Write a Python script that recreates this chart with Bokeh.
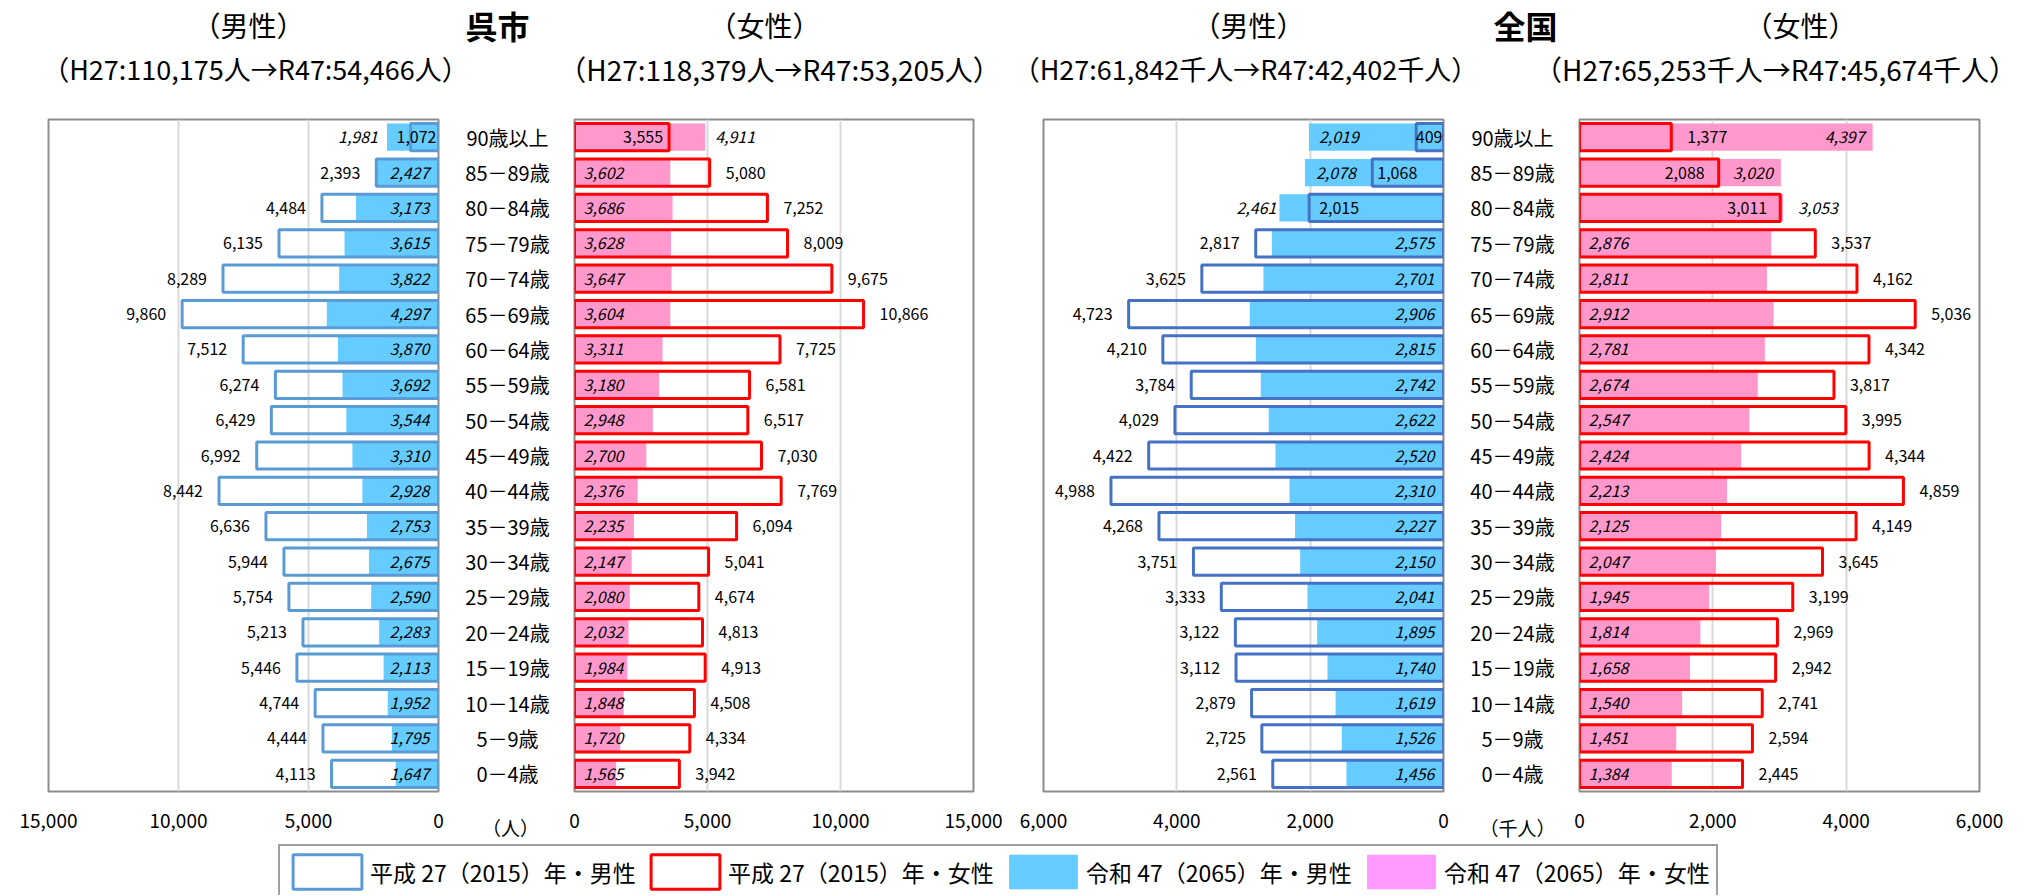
from bokeh.plotting import figure
from bokeh.models import (ColumnDataSource, Range1d, FactorRange, FixedTicker,
                          NumeralTickFormatter, LabelSet, Legend, LegendItem)
from bokeh.layouts import row, column
from bokeh.embed import file_html
from bokeh.resources import INLINE
from bokeh.core.properties import value

# ---------------- data ----------------
ages = ["90歳以上", "85－89歳", "80－84歳", "75－79歳", "70－74歳", "65－69歳",
        "60－64歳", "55－59歳", "50－54歳", "45－49歳", "40－44歳", "35－39歳",
        "30－34歳", "25－29歳", "20－24歳", "15－19歳", "10－14歳", "5－9歳", "0－4歳"]

kure_male_2015 = [1072, 2393, 4484, 6135, 8289, 9860, 7512, 6274, 6429, 6992,
                  8442, 6636, 5944, 5754, 5213, 5446, 4744, 4444, 4113]
kure_male_2065 = [1981, 2427, 3173, 3615, 3822, 4297, 3870, 3692, 3544, 3310,
                  2928, 2753, 2675, 2590, 2283, 2113, 1952, 1795, 1647]
kure_female_2015 = [3555, 5080, 7252, 8009, 9675, 10866, 7725, 6581, 6517, 7030,
                    7769, 6094, 5041, 4674, 4813, 4913, 4508, 4334, 3942]
kure_female_2065 = [4911, 3602, 3686, 3628, 3647, 3604, 3311, 3180, 2948, 2700,
                    2376, 2235, 2147, 2080, 2032, 1984, 1848, 1720, 1565]

nat_male_2015 = [409, 1068, 2015, 2817, 3625, 4723, 4210, 3784, 4029, 4422,
                 4988, 4268, 3751, 3333, 3122, 3112, 2879, 2725, 2561]
nat_male_2065 = [2019, 2078, 2461, 2575, 2701, 2906, 2815, 2742, 2622, 2520,
                 2310, 2227, 2150, 2041, 1895, 1740, 1619, 1526, 1456]
nat_female_2015 = [1377, 2088, 3011, 3537, 4162, 5036, 4342, 3817, 3995, 4344,
                   4859, 4149, 3645, 3199, 2969, 2942, 2741, 2594, 2445]
nat_female_2065 = [4397, 3020, 3053, 2876, 2811, 2912, 2781, 2674, 2547, 2424,
                   2213, 2125, 2047, 1945, 1814, 1658, 1540, 1451, 1384]

kure_ticks = [0, 5000, 10000, 15000]
nat_ticks = [0, 2000, 4000, 6000]
kure_max = 15000
nat_max = 6000

region_titles = ["呉市", "全国"]
units = ["（人）", "（千人）"]
sex_titles = ["（男性）", "（女性）"]
kure_sub = ["（H27:110,175人→R47:54,466人）", "（H27:118,379人→R47:53,205人）"]
nat_sub = ["（H27:61,842千人→R47:42,402千人）", "（H27:65,253千人→R47:45,674千人）"]
legend_labels = ["平成 27（2015）年・男性", "平成 27（2015）年・女性",
                 "令和 47（2065）年・男性", "令和 47（2065）年・女性"]

# ---------------- styles / layout ----------------
FONT = "Noto Sans CJK JP"
W = 2038
TITLE_H = 100
ROW_H = 743
LEG_H = 52
TOP = 19
BOTTOM = 44
BAR_H = 0.77
MALE_FILL = "#66ccff"
FEMALE_FILL = "#ff99cc"
KURE_MALE_LINE = "#5b9bd5"
NAT_MALE_LINE = "#4472c4"
FEMALE_LINE = "#ff0000"

y_range = FactorRange(factors=list(reversed(ages)))

# label placement: (anchor, signed px distance away from the axis)
DEF15 = ("v15", 16)
DEF65 = ("base", 9)
kure_male_place = {("15", "90歳以上"): ("base", 2), ("65", "90歳以上"): ("v65", 9)}
kure_female_place = {("15", "90歳以上"): ("v15", -6), ("65", "90歳以上"): ("v65", 10)}
nat_male_place = {("15", "90歳以上"): ("base", 1), ("65", "90歳以上"): ("v65", -10),
                  ("15", "85－89歳"): ("v15", -5), ("65", "85－89歳"): ("v65", -11),
                  ("15", "80－84歳"): ("v15", -10), ("65", "80－84歳"): ("v65", 3)}
nat_female_place = {("65", "90歳以上"): ("v65", -8),
                    ("15", "85－89歳"): ("v15", -14), ("65", "85－89歳"): ("v65", -8),
                    ("15", "80－84歳"): ("v15", -13), ("65", "80－84歳"): ("v65", 15)}


def style_axis(ax, size):
    ax.axis_line_color = None
    ax.major_tick_line_color = None
    ax.minor_tick_line_color = None
    ax.major_label_text_font = FONT
    ax.major_label_text_font_size = size
    ax.major_label_text_color = "#000000"
    ax.major_label_standoff = 16


def panel(v15, v65, xmax, ticks, male, line_color, fill_color, place, lb, fw, rb):
    xr = Range1d(xmax, 0) if male else Range1d(0, xmax)
    p = figure(width=lb + fw + rb, height=ROW_H, x_range=xr, y_range=y_range,
               y_axis_location=None, output_backend="svg", toolbar_location=None,
               min_border_left=lb, min_border_right=rb,
               min_border_top=TOP, min_border_bottom=BOTTOM)
    p.background_fill_color = "white"
    p.border_fill_color = "white"
    p.outline_line_color = "#8c8c8c"
    p.outline_line_width = 2
    p.ygrid.visible = False
    p.xgrid.ticker = FixedTicker(ticks=ticks)
    p.xgrid.grid_line_color = "#d9d9d9"
    p.xgrid.grid_line_width = 2
    ax = p.xaxis[0]
    ax.ticker = FixedTicker(ticks=ticks)
    ax.formatter = NumeralTickFormatter(format="0,0")
    style_axis(ax, "19px")

    src = ColumnDataSource(dict(age=ages, v15=v15, v65=v65))
    p.hbar(y="age", left=0, right="v65", height=BAR_H, source=src,
           fill_color=fill_color, line_color=None)
    p.hbar(y="age", left=0, right="v15", height=BAR_H, source=src,
           fill_color=None, line_color=line_color, line_width=3)

    for key, vals, default, style in (("15", v15, DEF15, "normal"),
                                      ("65", v65, DEF65, "italic")):
        groups = {}
        for i, a in enumerate(ages):
            anchor, d = place.get((key, a), default)
            x = {"base": 0, "v15": v15[i], "v65": v65[i]}[anchor]
            outward = d > 0
            if male:
                align = "right" if outward else "left"
                xo = -d
            else:
                align = "left" if outward else "right"
                xo = d
            g = groups.setdefault(align, dict(x=[], age=[], text=[], xo=[]))
            g["x"].append(x)
            g["age"].append(a)
            g["text"].append(f"{vals[i]:,}")
            g["xo"].append(xo)
        for align, g in groups.items():
            p.add_layout(LabelSet(x="x", y="age", text="text", x_offset="xo",
                                  source=ColumnDataSource(g), text_align=align,
                                  text_baseline="middle", text_font=value(FONT),
                                  text_font_size="16px", text_font_style=style,
                                  text_color="#000000"))
    return p


def age_fig(width, unit, xoff):
    p = figure(width=width, height=ROW_H, x_range=Range1d(-1, 1), y_range=y_range,
               y_axis_location=None, output_backend="svg", toolbar_location=None,
               min_border_left=0, min_border_right=0,
               min_border_top=TOP, min_border_bottom=BOTTOM)
    p.outline_line_color = None
    p.grid.visible = False
    p.background_fill_color = "white"
    p.border_fill_color = "white"
    src = ColumnDataSource(dict(age=ages, x=[0] * len(ages)))
    p.text(x="x", y="age", text="age", source=src, x_offset=xoff,
           text_align="center", text_baseline="middle",
           text_font=value(FONT), text_font_size="20px", text_color="#000000")
    ax = p.xaxis[0]
    ax.ticker = FixedTicker(ticks=[0])
    ax.major_label_overrides = {0: unit}
    style_axis(ax, "19px")
    return p


# ---------------- title strip ----------------
ts = figure(width=W, height=TITLE_H, x_range=Range1d(0, W), y_range=Range1d(TITLE_H, 0),
            x_axis_location=None, y_axis_location=None, output_backend="svg",
            toolbar_location=None, min_border=0)
ts.outline_line_color = None
ts.grid.visible = False
ts.background_fill_color = "white"
ts.border_fill_color = "white"
head_text = [sex_titles[0], sex_titles[1], sex_titles[0], sex_titles[1]]
head_x = [248, 764, 1248, 1800]
ts.text(x=head_x, y=[24] * 4, text=head_text, text_align="center",
        text_baseline="middle", text_font=value(FONT), text_font_size="28px",
        text_color="#000000")
ts.text(x=[497, 1525], y=[24, 24], text=region_titles, text_align="center",
        text_baseline="middle", text_font=value(FONT), text_font_size="32px",
        text_font_style="bold", text_color="#000000")
ts.text(x=[255, 1245], y=[68, 68], text=[kure_sub[0], nat_sub[0]], text_align="center",
        text_baseline="middle", text_font=value(FONT), text_font_size="27px",
        text_color="#000000")
ts.text(x=[779, 1775], y=[68, 68], text=[kure_sub[1], nat_sub[1]], text_align="center",
        text_baseline="middle", text_font=value(FONT), text_font_size="28px",
        text_color="#000000")

# ---------------- panels ----------------
f_km = panel(kure_male_2015, kure_male_2065, kure_max, kure_ticks, True,
             KURE_MALE_LINE, MALE_FILL, kure_male_place, 48, 390, 20)
f_kl = age_fig(104, units[0], -3)
f_kf = panel(kure_female_2015, kure_female_2065, kure_max, kure_ticks, False,
             FEMALE_LINE, FEMALE_FILL, kure_female_place, 12, 399, 35)
f_nm = panel(nat_male_2015, nat_male_2065, nat_max, nat_ticks, True,
             NAT_MALE_LINE, MALE_FILL, nat_male_place, 35, 400, 24)
f_nl = age_fig(100, units[1], -5)
f_nf = panel(nat_female_2015, nat_female_2065, nat_max, nat_ticks, False,
             FEMALE_LINE, FEMALE_FILL, nat_female_place, 12, 400, 59)

# ---------------- legend strip ----------------
lg = figure(width=W, height=LEG_H, x_range=Range1d(0, 1), y_range=Range1d(0, 1),
            x_axis_location=None, y_axis_location=None, output_backend="svg",
            toolbar_location=None, min_border=0)
lg.outline_line_color = None
lg.grid.visible = False
lg.background_fill_color = "white"
lg.border_fill_color = "white"
r1 = lg.rect(x=[-5], y=[-5], width=1, height=1, fill_color="white",
             line_color=KURE_MALE_LINE, line_width=3)
r2 = lg.rect(x=[-5], y=[-5], width=1, height=1, fill_color="white",
             line_color=FEMALE_LINE, line_width=3)
r3 = lg.rect(x=[-5], y=[-5], width=1, height=1, fill_color=MALE_FILL, line_color=None)
r4 = lg.rect(x=[-5], y=[-5], width=1, height=1, fill_color="#ff99ff", line_color=None)
legend = Legend(items=[LegendItem(label=legend_labels[i], renderers=[r])
                       for i, r in enumerate([r1, r2, r3, r4])],
                orientation="horizontal", location=(278, -4), margin=0,
                padding=4, spacing=4, glyph_width=86, glyph_height=43,
                label_width=268, label_height=43, label_standoff=0,
                label_text_font=FONT, label_text_font_size="23px",
                label_text_baseline="middle", label_text_color="#000000",
                border_line_color="#404040", border_line_width=2,
                background_fill_color="white", background_fill_alpha=1.0)
lg.add_layout(legend, "center")

layout = column(ts, row(f_km, f_kl, f_kf, f_nm, f_nl, f_nf), lg)

open("out.html", "w").write(file_html(layout, INLINE))
